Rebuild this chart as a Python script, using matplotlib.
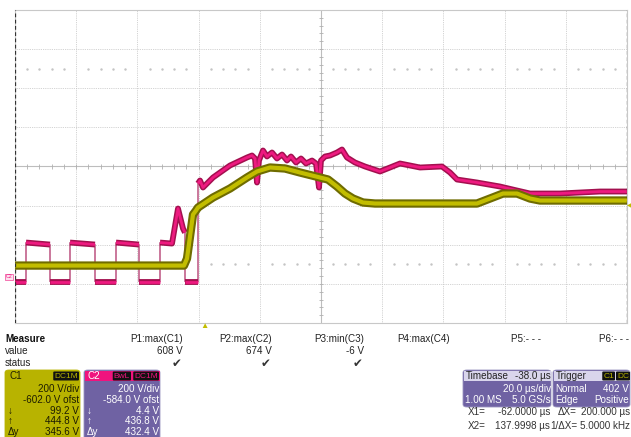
import numpy as np
import matplotlib
matplotlib.use("Agg")
import matplotlib.pyplot as plt
from matplotlib.patches import FancyBboxPatch, Rectangle

plt.rcParams['font.family'] = ['Liberation Sans', 'DejaVu Sans']

W, H = 631, 437

# screen pixels -> divisions (10 x 8 grid)
X0, X1, YC, PXDIV_X, PXDIV_Y = 15, 627, 166, 61.2, 39.1

# C1 trace (yellow) in pixels
c1_px = [15, 184, 187, 193, 196, 198, 213, 230, 247, 257, 270, 285, 300, 320, 328,
         337, 345, 353, 363, 375, 477, 490, 503, 517, 530, 540, 627]
c1_py = [265, 265, 258, 214, 210, 207, 197, 188, 177, 171, 167, 168, 172, 177, 179,
         186, 193, 198, 202, 203, 203, 198, 193, 193, 198, 200, 200]

# C2 trace (pink)
c2_px = [15, 26, 26, 50, 50, 70, 70, 95, 95, 116, 116, 139, 139, 160, 160, 172,
         178, 183, 185, 185, 198, 198, 200, 203, 213, 230, 247, 252, 255, 257, 259,
         263, 267, 272, 277, 282, 287, 291, 296, 301, 306, 312, 316, 319, 321, 325,
         330, 337, 342, 347, 355, 365, 380, 390, 400, 410, 420, 442, 450, 457, 477,
         500, 517, 530, 560, 600, 627]
c2_py = [281, 281, 242, 244, 281, 281, 242, 244, 281, 281, 242, 244, 281, 281, 242, 243,
         208, 228, 232, 281, 281, 183, 180, 187, 177, 165, 157, 155, 158, 182, 160,
         150, 156, 152, 158, 154, 160, 156, 162, 158, 163, 160, 163, 187, 160, 156,
         155, 152, 149, 157, 162, 166, 171, 167, 163, 165, 167, 166, 172, 179, 182,
         186, 190, 193, 193, 191, 191]

measure_heads = ["P1:max(C1)", "P2:max(C2)", "P3:min(C3)", "P4:max(C4)", "P5:- - -", "P6:- - -"]
measure_vals = ["608 V", "674 V", "-6 V", "", "", ""]
measure_ok = [True, True, True, False, False, False]
measure_right = [183, 272, 364, 450, 541, 629]

c1_info = ["200 V/div", "-602.0 V ofst", "99.2 V", "444.8 V", "345.6 V"]
c2_info = ["200 V/div", "-584.0 V ofst", "4.4 V", "436.8 V", "432.4 V"]
row_marks = ["", "", "\u2193", "\u2191", "\u0394y"]

YEL, YEL_D = '#c2bd00', '#6f6c00'
PINK, PINK_D = '#ee1a80', '#a3104f'
PURPLE = '#6f62a3'
BOXYEL = '#b8b300'


def tox(p):
    return (np.asarray(p, float) - X0) / PXDIV_X


def toy(p):
    return (YC - np.asarray(p, float)) / PXDIV_Y


def fp(x, y):
    return x / W, 1 - y / H


fig = plt.figure(figsize=(W / 100, H / 100), dpi=100)
ax = fig.add_axes([X0 / W, 1 - 323 / H, (X1 - X0) / W, (323 - 10) / H])
ax.set_xlim(0, 10)
ax.set_ylim(-4, 4)
ax.set_xticks([])
ax.set_yticks([])
for s in ax.spines.values():
    s.set_color('#c8c8c8')
    s.set_linewidth(0.8)

for gx in range(1, 10):
    ax.axvline(gx, color='#c4c4c4', lw=0.6, ls=(0, (1, 1.2)), zorder=1)
for gy in range(-3, 4):
    ax.axhline(gy, color='#c4c4c4', lw=0.6, ls=(0, (1, 1.2)), zorder=1)
ax.axhline(0, color='#bdbdbd', lw=0.8, zorder=1)
ax.axvline(5, color='#bdbdbd', lw=0.8, zorder=1)
minor = np.arange(0.2, 10, 0.2)
ax.vlines(minor, -0.06, 0.06, color='#b0b0b0', lw=0.6, zorder=1)
minor_y = np.arange(-3.8, 4, 0.2)
ax.hlines(minor_y, 4.96, 5.04, color='#b0b0b0', lw=0.6, zorder=1)
dots = np.arange(0.2, 10, 0.2)
dots = dots[np.abs(dots - np.round(dots)) > 0.05]
for yy in (2.5, -2.5):
    ax.plot(dots, np.full_like(dots, yy), ls='none', marker='s', ms=0.7,
            color='#c4c4c4', zorder=1)

# cursors at both edges
ax.axvline(0.005, color='#333333', lw=0.9, ls=(0, (3, 2)), zorder=6)
ax.axvline(9.995, color='#333333', lw=0.9, ls=(0, (3, 2)), zorder=6)

# C2 trace: thin everywhere, thick band on horizontal runs
x2, y2 = tox(c2_px), toy(c2_py)
ax.plot(x2, y2, color=PINK_D, lw=0.8, zorder=3)
start = 0
for i in range(1, len(c2_px)):
    if c2_px[i] == c2_px[i - 1] or i == len(c2_px) - 1:
        end = i if c2_px[i] == c2_px[i - 1] else i + 1
        ax.plot(x2[start:end], y2[start:end], color=PINK_D, lw=4.2,
                solid_capstyle='butt', zorder=3)
        ax.plot(x2[start:end], y2[start:end], color=PINK, lw=2.0,
                solid_capstyle='butt', zorder=3)
        start = i

# C1 trace
x1, y1 = tox(c1_px), toy(c1_py)
ax.plot(x1, y1, color=YEL_D, lw=6.0, solid_capstyle='butt', zorder=4)
ax.plot(x1, y1, color=YEL, lw=3.0, solid_capstyle='butt', zorder=4)

# markers around the grid
fig.text(*fp(9, 277), "C2", fontsize=3.8, color=PINK, ha='center', va='center',
         bbox=dict(boxstyle='square,pad=0.12', fc='#fde0ee', ec=PINK, lw=0.4))
fig.text(*fp(204, 326), "\u25b2", fontsize=6, color='#c2bd00', ha='center', va='center')
fig.text(*fp(629, 206), "\u25c0", fontsize=4, color='#c2bd00', ha='center', va='center')

# measurement table
fs = 7.1
fig.text(*fp(5, 339), "Measure", fontsize=fs, weight='bold', va='center', color='#111111')
fig.text(*fp(5, 351), "value", fontsize=fs, va='center', color='#222222')
fig.text(*fp(5, 363), "status", fontsize=fs, va='center', color='#222222')
for head, val, ok, xr in zip(measure_heads, measure_vals, measure_ok, measure_right):
    fig.text(*fp(xr, 339), head, fontsize=fs, ha='right', va='center', color='#222222')
    if val:
        fig.text(*fp(xr, 351), val, fontsize=fs, ha='right', va='center', color='#222222')
    if ok:
        fig.text(*fp(xr - 1, 364), "\u2714", fontsize=8.5, ha='right', va='center',
                 color='#333333', family='DejaVu Sans')


def box(x0, y0, x1, y1, color):
    fig.patches.append(FancyBboxPatch(fp(x0, y1), (x1 - x0) / W, (y1 - y0) / H,
                                      boxstyle='round,pad=0,rounding_size=0.006',
                                      transform=fig.transFigure, fc=color,
                                      ec='#9a94c0' if color == PURPLE else color, lw=0.6))


def rect(x0, y0, x1, y1, color):
    fig.patches.append(Rectangle(fp(x0, y1), (x1 - x0) / W, (y1 - y0) / H,
                                 transform=fig.transFigure, fc=color, ec='none'))


def tag(x, y, s, col):
    fig.text(*fp(x, y), s, fontsize=6, ha='right', va='center', color=col,
             bbox=dict(boxstyle='round,pad=0.12', fc='#111111', ec='none'))


# C1 descriptor
box(5, 370, 80, 445, BOXYEL)
fig.text(*fp(9, 376), "C1", fontsize=fs, va='center', color='#202000')
tag(78, 376, "DC1M", BOXYEL)
# C2 descriptor
box(84, 370, 160, 445, PURPLE)
rect(84.5, 370.5, 159.5, 381, '#f0137e')
fig.text(*fp(88, 376), "C2", fontsize=fs, va='center', color='white')
tag(130, 376, "BwL", '#f0137e')
tag(158, 376, "DC1M", '#f0137e')
for k, (a, b, m) in enumerate(zip(c1_info, c2_info, row_marks)):
    yy = 389 + 10.8 * k
    fig.text(*fp(79, yy), a, fontsize=fs, ha='right', va='center', color='#1c1c00')
    fig.text(*fp(159, yy), b, fontsize=fs, ha='right', va='center', color='white')
    if m:
        fig.text(*fp(8, yy), m, fontsize=fs, va='center', color='#1c1c00')
        fig.text(*fp(87, yy), m, fontsize=fs, va='center', color='white')

# timebase / trigger
box(463, 370, 551, 407, PURPLE)
rect(463.5, 370.5, 550.5, 381, '#d9d5ec')
fig.text(*fp(466, 376), "Timebase", fontsize=fs, va='center', color='#222222')
fig.text(*fp(551, 376), "-38.0 \u00b5s", fontsize=fs, ha='right', va='center', color='#222222')
fig.text(*fp(551, 389), "20.0 \u00b5s/div", fontsize=fs, ha='right', va='center', color='white')
fig.text(*fp(465, 400), "1.00 MS", fontsize=fs, va='center', color='white')
fig.text(*fp(551, 400), "5.0 GS/s", fontsize=fs, ha='right', va='center', color='white')

box(553, 370, 630, 407, PURPLE)
rect(553.5, 370.5, 629.5, 381, '#d9d5ec')
fig.text(*fp(556, 376), "Trigger", fontsize=fs, va='center', color='#222222')
tag(614, 376, "C1", BOXYEL)
tag(629, 376, "DC", BOXYEL)
fig.text(*fp(555, 389), "Normal", fontsize=fs, va='center', color='white')
fig.text(*fp(629, 389), "402 V", fontsize=fs, ha='right', va='center', color='white')
fig.text(*fp(555, 400), "Edge", fontsize=fs, va='center', color='white')
fig.text(*fp(629, 400), "Positive", fontsize=fs, ha='right', va='center', color='white')

fig.text(*fp(468, 412), "X1=", fontsize=fs, va='center', color='#333333')
fig.text(*fp(550, 412), "-62.0000 \u00b5s", fontsize=fs, ha='right', va='center', color='#333333')
fig.text(*fp(468, 426), "X2=", fontsize=fs, va='center', color='#333333')
fig.text(*fp(550, 426), "137.9998 \u00b5s", fontsize=fs, ha='right', va='center', color='#333333')
fig.text(*fp(577, 412), "\u0394X=", fontsize=fs, ha='right', va='center', color='#333333')
fig.text(*fp(630, 412), "200.000 \u00b5s", fontsize=fs, ha='right', va='center', color='#333333')
fig.text(*fp(577, 426), "1/\u0394X=", fontsize=fs, ha='right', va='center', color='#333333')
fig.text(*fp(630, 426), "5.0000 kHz", fontsize=fs, ha='right', va='center', color='#333333')

fig.savefig("out.png", dpi=100, facecolor='white')
